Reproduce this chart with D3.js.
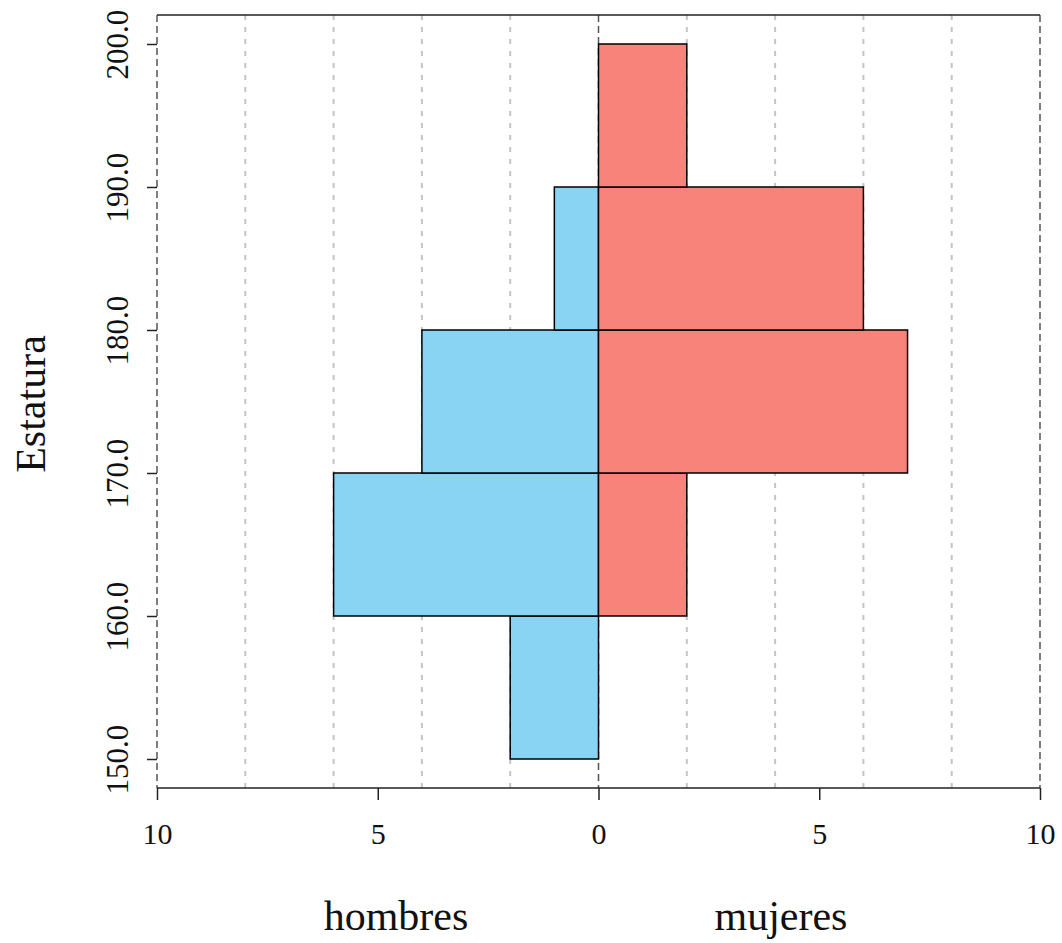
<!DOCTYPE html>
<html><head><meta charset="utf-8">
<script src="https://cdn.jsdelivr.net/npm/d3@7"></script>
<style>body{margin:0;background:#fff}svg{display:block}</style>
</head><body>
<script>
const breaks = [150,160,170,180,190,200];
const hombres = [2,6,4,1,0];
const mujeres = [0,2,7,6,2];
const xTicks = [-10,-5,0,5,10];
const xTickLabels = ["10","5","0","5","10"];
const yTicks = [150,160,170,180,190,200];
const yTickLabels = ["150.0","160.0","170.0","180.0","190.0","200.0"];
const gridVals = [-8,-6,-4,-2,2,4,6,8];
const gridDark = [-10,0,10];

const W=1062,H=943;
const svg=d3.select("body").append("svg").attr("width",W).attr("height",H);
const x=d3.scaleLinear().domain([-10,10]).range([157,1040]);
const y=d3.scaleLinear().domain([150,200]).range([759,44]);
const plotTop=15,plotBottom=788;
const font="'Liberation Serif', serif";

// grid
svg.selectAll(".g").data(gridVals).enter().append("line")
  .attr("x1",d=>x(d)).attr("x2",d=>x(d)).attr("y1",plotTop).attr("y2",plotBottom)
  .attr("stroke","#c4c4c4").attr("stroke-width",2).attr("stroke-dasharray","5,7");
svg.selectAll(".gd").data(gridDark).enter().append("line")
  .attr("x1",d=>x(d)).attr("x2",d=>x(d)).attr("y1",plotTop).attr("y2",plotBottom)
  .attr("stroke","#555").attr("stroke-width",1.5).attr("stroke-dasharray","7,4");

const bins = breaks.slice(0,-1).map((b,i)=>({lo:b,hi:breaks[i+1],h:hombres[i],m:mujeres[i]}));
svg.selectAll(".h").data(bins.filter(d=>d.h>0)).enter().append("rect")
  .attr("x",d=>x(-d.h)).attr("width",d=>x(0)-x(-d.h))
  .attr("y",d=>y(d.hi)).attr("height",d=>y(d.lo)-y(d.hi))
  .attr("fill","#89D3F3").attr("stroke","#000").attr("stroke-width",1.5);
svg.selectAll(".m").data(bins.filter(d=>d.m>0)).enter().append("rect")
  .attr("x",x(0)).attr("width",d=>x(d.m)-x(0))
  .attr("y",d=>y(d.hi)).attr("height",d=>y(d.lo)-y(d.hi))
  .attr("fill","#F8837A").attr("stroke","#000").attr("stroke-width",1.5);

// frame top & bottom
svg.append("line").attr("x1",157).attr("x2",1040).attr("y1",plotTop).attr("y2",plotTop).attr("stroke","#222").attr("stroke-width",1.5);
svg.append("line").attr("x1",157).attr("x2",1040).attr("y1",plotBottom).attr("y2",plotBottom).attr("stroke","#222").attr("stroke-width",1.5);

// x axis
const xa=svg.append("g").attr("transform",`translate(0,${plotBottom})`)
  .call(d3.axisBottom(x).tickValues(xTicks).tickSize(12).tickFormat((d,i)=>xTickLabels[i]));
xa.select(".domain").remove();
xa.selectAll(".tick line").attr("stroke","#222").attr("stroke-width",1.5);
xa.selectAll(".tick text").attr("font-family",font).attr("font-size",30).attr("fill","#111").attr("dy",0).attr("y",56);

// y axis
const ya=svg.append("g").attr("transform",`translate(157,0)`)
  .call(d3.axisLeft(y).tickValues(yTicks).tickSize(10).tickFormat((d,i)=>yTickLabels[i]));
ya.select(".domain").remove();
ya.selectAll(".tick line").attr("stroke","#222").attr("stroke-width",1.5);
ya.selectAll(".tick text").attr("font-family",font).attr("font-size",31).attr("fill","#111")
  .attr("x",0).attr("dy",0).attr("text-anchor","middle")
  .attr("transform","translate(-29,0) rotate(-90)");

// titles
svg.append("text").attr("x",396).attr("y",930).attr("text-anchor","middle")
  .attr("font-family",font).attr("font-size",42).attr("fill","#111").text("hombres");
svg.append("text").attr("x",781).attr("y",930).attr("text-anchor","middle")
  .attr("font-family",font).attr("font-size",42).attr("fill","#111").text("mujeres");
svg.append("text").attr("transform","translate(45,404) rotate(-90)").attr("text-anchor","middle")
  .attr("font-family",font).attr("font-size",42).attr("fill","#111").text("Estatura");
</script>
</body></html>
